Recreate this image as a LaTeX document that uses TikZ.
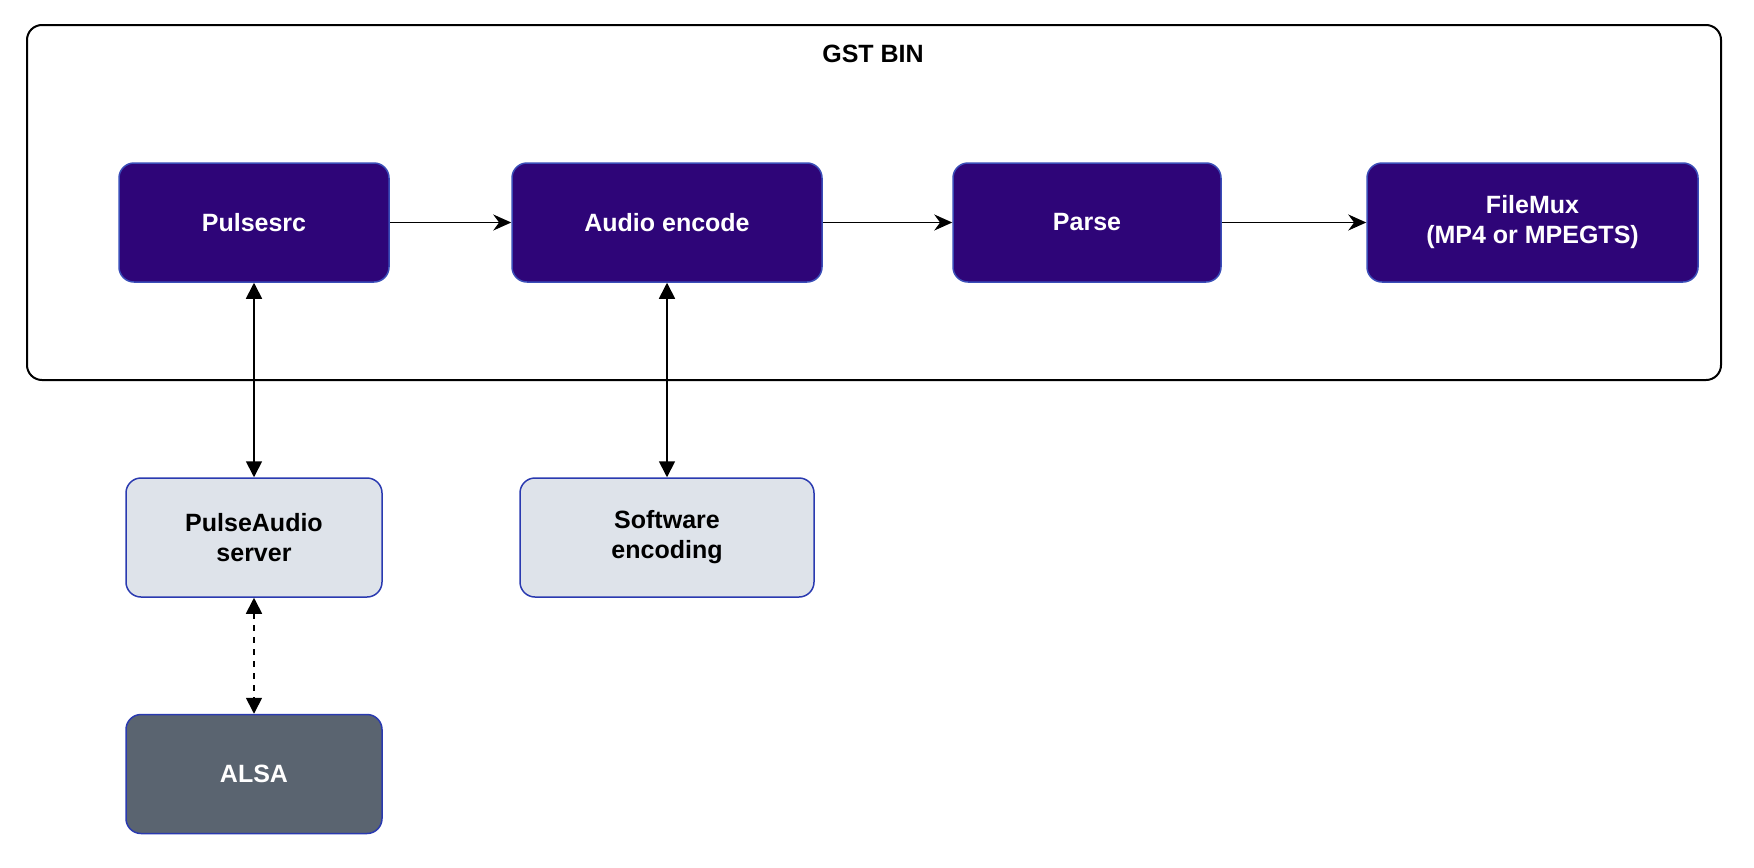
\documentclass[tikz,border=0pt]{standalone}
\usepackage{fontspec}
\setmainfont{Liberation Sans}
\usetikzlibrary{arrows.meta, positioning}

\definecolor{elemfill}{HTML}{2E0578}
\definecolor{elemline}{HTML}{3A4DB8}
\definecolor{svcfill}{HTML}{DEE3EA}
\definecolor{svcline}{HTML}{2A3AB0}
\definecolor{hwfill}{HTML}{5A6470}

\begin{document}
\begin{tikzpicture}[
  x=0.5pt, y=-0.5pt,
  element/.style={draw=elemline, fill=elemfill, rounded corners=7.5pt, line width=0.75pt,
    minimum height=59.5pt, font=\bfseries\fontsize{12.5}{15}\selectfont, text=white, align=center},
  service/.style={element, draw=svcline, fill=svcfill, text=black},
  hardware/.style={element, draw=svcline, fill=hwfill, text=white},
  flow/.style={-{Stealth[length=9pt, width=8pt]}, line width=0.85pt},
  link/.style={{Triangle[length=8pt, width=8pt]}-{Triangle[length=8pt, width=8pt]}, line width=0.85pt},
  every node/.style={inner sep=2pt}
]
\useasboundingbox (0,0) rectangle (1754,867);

% GST bin container
\draw[line width=1pt, rounded corners=7.5pt] (27,25) rectangle (1721,380);
\node[font=\bfseries\fontsize{12.5}{15}\selectfont] (bintitle) at (873,54) {GST BIN};

% Pipeline elements
\node[element, minimum width=135pt] (pulsesrc) at (254,222.5) {Pulsesrc};
\node[element, minimum width=155pt] (encode) at (667,222.5) {Audio encode};
\node[element, minimum width=134pt] (parse) at (1087,222.5) {Parse};
\node[element, minimum width=165.5pt] (filemux) at (1532.5,222.5) {FileMux\\(MP4 or MPEGTS)};

% Outside services
\node[service, minimum width=128pt] (pulseaudio) at (254,537.5) {PulseAudio\\server};
\node[service, minimum width=147pt] (swenc) at (667,537.5) {Software\\encoding};
\node[hardware, minimum width=128pt] (alsa) at (254,774) {ALSA};

% Data flow
\draw[flow] (pulsesrc) -- (encode);
\draw[flow] (encode) -- (parse);
\draw[flow] (parse) -- (filemux);

% Links
\draw[link] (pulsesrc) -- (pulseaudio);
\draw[link] (encode) -- (swenc);
\draw[link, dashed] (pulseaudio) -- (alsa);

\end{tikzpicture}
\end{document}
